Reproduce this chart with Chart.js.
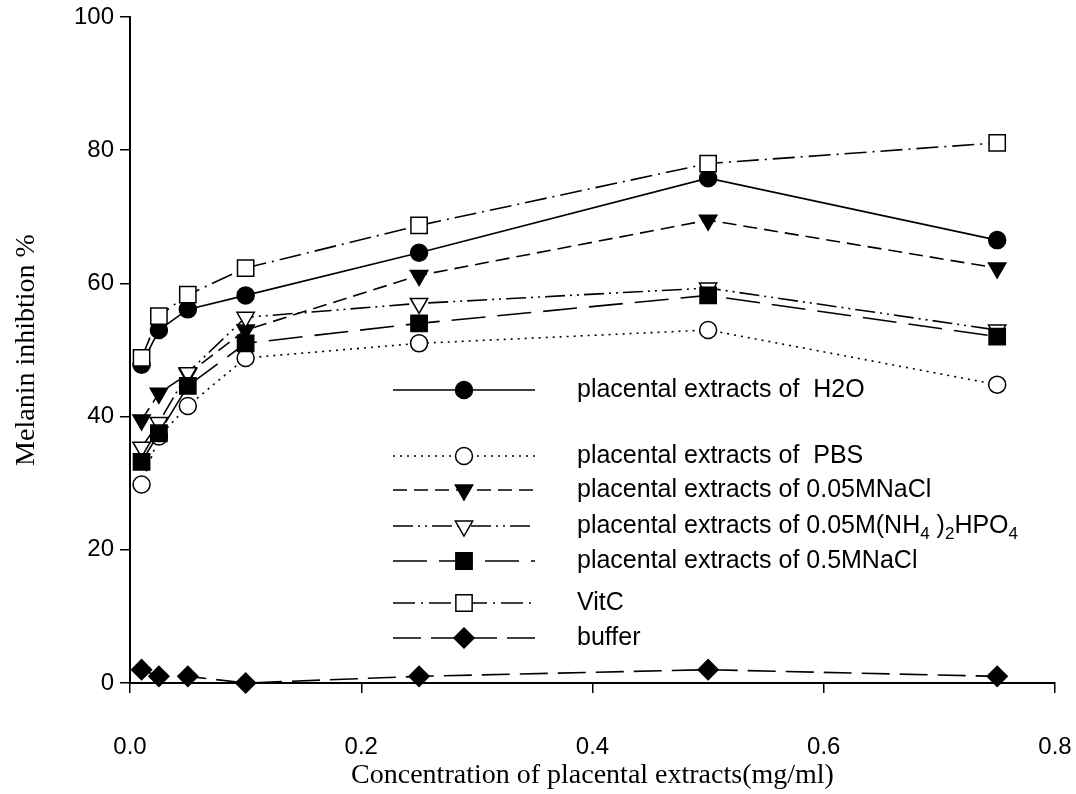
<!DOCTYPE html>
<html>
<head>
<meta charset="utf-8">
<script src="https://cdn.jsdelivr.net/npm/chart.js@4/dist/chart.umd.min.js"></script>
<style>
html,body{margin:0;padding:0;background:#fff;}
#wrap{width:1076px;height:794px;position:relative;}
</style>
</head>
<body>
<div id="wrap"><canvas id="c" width="1076" height="794"></canvas></div>
<script>
// ---- data ----
const xValues = [0.01, 0.025, 0.05, 0.1, 0.25, 0.5, 0.75];
const h2oValues   = [47.8, 53.0, 56.1, 58.2, 64.6, 75.8, 66.5];
const pbsValues   = [29.8, 37.0, 41.6, 48.8, 51.0, 53.0, 44.8];
const nacl005Values = [39.5, 43.5, 46.4, 53.0, 61.2, 69.5, 62.3];
const nh4Values   = [35.4, 39.1, 46.6, 54.9, 57.0, 59.3, 53.0];
const nacl05Values = [33.2, 37.5, 44.6, 51.0, 54.0, 58.2, 52.0];
const vitcValues  = [48.8, 55.1, 58.3, 62.3, 68.7, 78.0, 81.1];
const bufferValues = [2.0, 1.0, 1.0, 0.0, 1.0, 2.0, 1.0];
const seriesLabels = [
  "placental extracts of  H2O",
  "placental extracts of  PBS",
  "placental extracts of 0.05MNaCl",
  "placental extracts of 0.05M(NH_4 )_2HPO_4",
  "placental extracts of 0.5MNaCl",
  "VitC",
  "buffer"
];
const xTickValues = [0, 0.2, 0.4, 0.6, 0.8];
const yTickValues = [0, 20, 40, 60, 80, 100];

const toPts = v => v.map((y,i)=>({x:xValues[i], y}));
const styles = [
  {pointStyle:'circle', fill:'#000', dash:[], rot:0, r:8.5},
  {pointStyle:'circle', fill:'#fff', dash:[2,5], rot:0, r:8.5},
  {pointStyle:'triangle', fill:'#000', dash:[14,7], rot:180, r:10},
  {pointStyle:'triangle', fill:'#fff', dash:[20,5,2,5,2,5], rot:180, r:10},
  {pointStyle:'rect', fill:'#000', dash:[34,12], rot:0, r:11.5},
  {pointStyle:'rect', fill:'#fff', dash:[22,6,2,6], rot:0, r:11.5},
  {pointStyle:'rectRot', fill:'#000', dash:[28,10], rot:0, r:10}
];
const allValues = [h2oValues, pbsValues, nacl005Values, nh4Values, nacl05Values, vitcValues, bufferValues];
const datasets = allValues.map((vals,i)=>({
  label: seriesLabels[i].replace(/_/g,''),
  richLabel: seriesLabels[i],
  data: toPts(vals),
  order: -i,
  showLine: true,
  borderColor:'#000',
  borderWidth:1.6,
  borderDash: styles[i].dash,
  pointStyle: styles[i].pointStyle,
  pointRotation: styles[i].rot,
  pointRadius: styles[i].r,
  pointHoverRadius: styles[i].r,
  pointBackgroundColor: styles[i].fill,
  pointBorderColor:'#000',
  pointBorderWidth:1.5,
  tension:0,
  clip:false
}));

const legendRows = [390, 456, 490, 526, 561, 603, 638];
const FONT_SANS = '"Liberation Sans", Arial, sans-serif';
const FONT_SERIF = '"Liberation Serif", "Times New Roman", serif';

const legendPlugin = {
  id:'customLegend',
  afterDatasetsDraw(chart){
    const ctx = chart.ctx;
    const x0 = 393, x1 = 535, xm = 464, tx = 577;
    chart.data.datasets.forEach((ds,i)=>{
      const y = legendRows[i];
      ctx.save();
      ctx.strokeStyle = '#000';
      ctx.lineWidth = ds.borderWidth;
      ctx.setLineDash(ds.borderDash);
      ctx.beginPath(); ctx.moveTo(x0,y); ctx.lineTo(x1,y); ctx.stroke();
      ctx.setLineDash([]);
      ctx.fillStyle = ds.pointBackgroundColor;
      ctx.strokeStyle = '#000';
      ctx.lineWidth = ds.pointBorderWidth;
      Chart.helpers.drawPoint(ctx, {pointStyle: ds.pointStyle, rotation: ds.pointRotation, radius: ds.pointRadius, borderWidth: ds.pointBorderWidth}, xm, y);
      ctx.fillStyle = '#000';
      ctx.textBaseline = 'middle';
      ctx.textAlign = 'left';
      let cx = tx;
      const parts = ds.richLabel.split(/(_.)/);
      parts.forEach(p=>{
        if(!p) return;
        if(p[0]==='_'){
          ctx.font = '17px ' + FONT_SANS;
          ctx.fillText(p[1], cx, y+8);
          cx += ctx.measureText(p[1]).width;
        } else {
          ctx.font = '25px ' + FONT_SANS;
          ctx.fillText(p, cx, y);
          cx += ctx.measureText(p).width;
        }
      });
      ctx.restore();
    });
  }
};

new Chart(document.getElementById('c'), {
  type:'scatter',
  data:{datasets},
  options:{
    responsive:false,
    animation:false,
    events:[],
    layout:{padding:{top:17, right:21, left:0, bottom:0}},
    plugins:{legend:{display:false}, tooltip:{enabled:false}},
    scales:{
      x:{
        type:'linear', min:0, max:0.8,
        afterBuildTicks(s){ s.ticks = xTickValues.map(v=>({value:v})); },
        afterFit(s){ s.height = 111; s.paddingRight = 0; s.paddingLeft = 0; },
        ticks:{color:'#000', font:{family:FONT_SANS, size:24}, padding:40,
          callback:v=>v.toFixed(1)},
        grid:{display:true, drawOnChartArea:false, drawTicks:true, tickLength:10, color:'#000', lineWidth:1.5},
        border:{display:true, color:'#000', width:2},
        title:{display:true, text:'Concentration of placental extracts(mg/ml)', color:'#000',
          font:{family:FONT_SERIF, size:28}, padding:{top:0,bottom:2}}
      },
      y:{
        type:'linear', min:0, max:100,
        afterBuildTicks(s){ s.ticks = yTickValues.map(v=>({value:v})); },
        afterFit(s){ s.width = 130; s.paddingTop = 0; s.paddingBottom = 0; },
        ticks:{color:'#000', font:{family:FONT_SANS, size:24}, padding:6},
        grid:{display:true, drawOnChartArea:false, drawTicks:true, tickLength:10, color:'#000', lineWidth:1.5},
        border:{display:true, color:'#000', width:2},
        title:{display:true, text:'Melanin inhibtion %', color:'#000',
          font:{family:FONT_SERIF, size:28}, padding:{top:10,bottom:0}}
      }
    }
  },
  plugins:[legendPlugin]
});
</script>
</body>
</html>
